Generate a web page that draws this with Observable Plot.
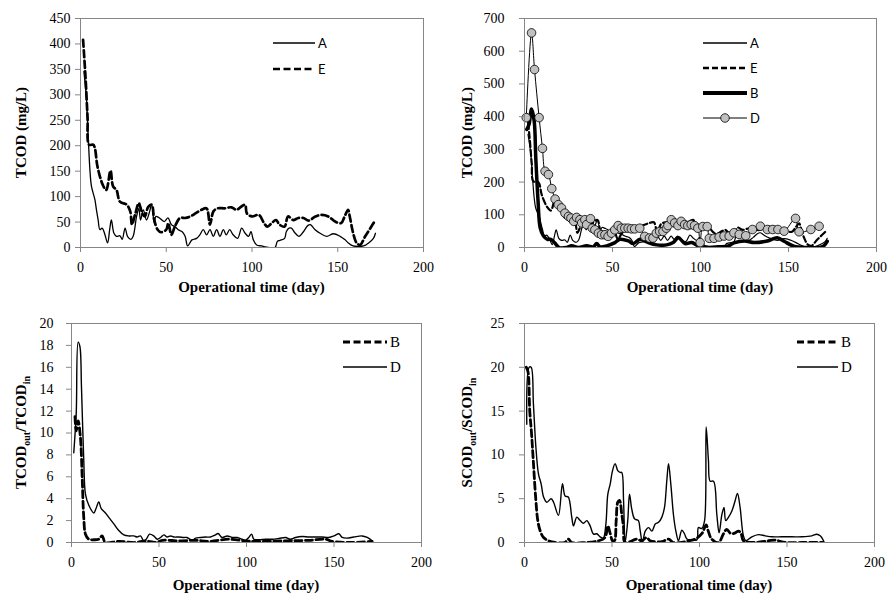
<!DOCTYPE html>
<html><head><meta charset="utf-8">
<script src="https://cdn.jsdelivr.net/npm/d3@7"></script>
<script src="https://cdn.jsdelivr.net/npm/@observablehq/plot@0.6"></script>
<style>
body{margin:0;background:#fff;}
#wrap{position:relative;width:892px;height:596px;overflow:hidden;background:#fff;}
#wrap svg{position:absolute;overflow:visible;}
</style></head><body><div id="wrap"></div>
<script>
// ---------- shared tick labels ----------
const xTicks = [0, 50, 100, 150, 200];
const yTicks1 = [0, 50, 100, 150, 200, 250, 300, 350, 400, 450];
const yTicks2 = [0, 100, 200, 300, 400, 500, 600, 700];
const yTicks3 = [0, 2, 4, 6, 8, 10, 12, 14, 16, 18, 20];
const yTicks4 = [0, 5, 10, 15, 20, 25];

// ---------- TCOD series (mg/L), panels 1 & 2 ----------
const aDays = [2,3.5,4.5,5.5,6.4,8.4,9.3,10.3,11.3,12.6,14,15.8,17,18,19.5,21,23,24.3,26,27.4,29.4,30.7,32.7,34,35,36.6,38.5,40,41.5,43,44,46,48.8,51,53,55,57,59.3,61,62.5,65,67.7,69.6,71.6,73.5,75.5,77.4,79.4,81.3,83.3,85,87,89,91.6,94,96,98,99.4,100.8,102.7,105.6,109.5,113.4,114.8,116.3,119,120,121.6,123,125,127.4,130,132.5,134,136.8,139.7,143.6,147.5,151.4,154.3,156.2,159,162,165,168,170.8,172];
const aVals = [346,290,218,152,120,94,74,54,35,38,28,9,35,54,28,22,23,16,38,22,16,22,61,77,54,74,54,67,84,48,61,58,51,58,45,41,35,31,22,3,15,18,25,35,25,35,22,35,22,35,25,35,25,18,38,28,22,31,15,5,3,0,0,12,14,18,31,38,38,29,22,31,43,45,35,28,22,27,22,15,9,3,2,3,9,18,28];

const eDays = [1.5,2.9,4.1,5,7.4,8.4,9.9,13,15,17.5,19,21,23,27,29,30,32,34,36,37.5,39.5,41.5,43,45,47,50,51.2,53,55,58,61,64,67,70.5,73.5,75.5,77.5,80,84,88,91,94,96,97,100,104,107,109,111.5,114,116,119,121,124,127,130,133,137,140.5,144.5,148.5,152,154,156,157,159,161,163,166,169,172];
const eVals = [408,336,257,202,202,195,159,123,113,151,120,113,90,84,71,45,67,87,67,61,80,84,54,35,30,35,48,25,41,58,58,61,67,74,77,45,71,77,77,79,74,81,84,67,61,64,48,41,48,54,45,41,61,54,58,58,53,61,64,61,51,48,61,74,61,28,9,5,22,38,54];

const bDays = [1.3,2.6,4,5.5,6.4,7.7,8.9,10.8,13,15,17,19.7,23.9,26.8,30.5,35.3,39.1,41,42.9,46.7,51.4,54.2,59,61.8,65.6,69.4,75.1,80.8,84.5,87.4,91.2,95,98.8,104.5,110.2,115.9,119,124.9,130.6,138,143.6,147.5,153,160.8,167.4,170,172];
const bVals = [361,377,423,387,275,142,60,35,25,25,15,0,0,5,0,5,2,12,2,5,15,25,20,12,25,17,8,8,15,30,12,15,5,0,2,5,14,20,15,20,30,19,4,0,0,5,19];

const dDays = [1,4,5.7,8.3,10.2,11.7,13.6,15.5,17.4,19.2,21,23,25,26.4,28,29.6,31.5,32.5,34.3,35.3,37.5,38.5,40,42,43.8,45.7,47.5,49.4,51.3,53.2,55,57,58.9,60.7,62.6,65.5,68.3,71,73,74.9,76.8,78.7,80.6,81.5,83.4,85.3,87.2,89,91,92.8,94.7,96.6,98.5,99.8,101.3,103.8,105,107.7,110.6,113.4,116.3,119,122,125.7,129.5,134,138,141,144,147.5,154,156,162.7,167.4];
const dVals = [397,656,544,397,303,233,223,180,148,131,121,105,95,90,80,92,85,75,85,70,88,59,54,44,39,39,34,44,54,67,59,59,59,57,57,59,34,29,29,44,49,49,59,67,85,75,67,80,70,67,70,67,59,15,64,64,28,28,32,35,35,45,40,36,55,65,55,55,55,50,89,48,55,65];

// ---------- TCOD_out/TCOD_in (panel 3) ----------
const r3bDays = [2,2.7,3.8,5.1,6.1,7,8,9.9,12.8,15.6,17.5,19.4,27,36.6,42.3,48,51.8,61.3,70.9,78.5,89.9,99.4,105,122,135.6,145,149,160,171.8];
const r3bVals = [11.5,10.2,11.1,9.6,6,2.3,0.76,0.3,0.25,0.3,0.6,0,0.1,0,0.15,0,0.2,0.15,0.2,0.1,0.3,0.15,0.1,0.15,0.2,0.3,0.1,0,0.1];
const r3dDays = [1.3,2.7,3.8,4.8,5.7,7,8,9.9,12.8,14,15.6,17,19.4,21.3,24.2,27,29.9,32.8,35.6,37.5,39.4,41.3,42.7,44.6,47,49,50.9,52.8,54.7,56.6,58.5,61.3,64.2,66,69,70.9,73.7,76.6,79.4,82.3,83.8,86,89,91.8,94.7,97.5,99.4,101.3,102.9,104.2,107,110.9,114.7,118.5,122.3,125.1,128,131.8,135.6,139.4,143.2,147,150,152.8,154.7,157.5,161.3,166,169,171.8];
const r3dVals = [8.2,11.8,18.3,17.9,14.2,7.5,4.4,3.4,2.7,3.1,3.7,3.1,2.7,2.3,1.7,1.1,0.7,0.6,0.6,0.5,0.6,0.15,0.3,0.76,0.6,0.3,0.46,0.7,0.5,0.6,0.5,0.5,0.46,0.46,0.2,0.4,0.46,0.5,0.5,0.7,0.82,0.46,0.6,0.46,0.46,0.3,0.2,0.46,0.76,0.3,0.25,0.3,0.3,0.37,0.46,0.3,0.46,0.55,0.5,0.5,0.5,0.46,0.6,0.8,0.46,0.4,0.5,0.6,0.46,0.15];

// ---------- SCOD_out/SCOD_in (panel 4) ----------
const r4bDays = [1,2,3,4,5,6.5,7.6,9,10.9,13.7,17.5,23,25,27,34.7,42.3,46,47.6,49,50.3,51.4,52.4,53.3,54.3,55.6,56.6,57.5,64.2,67,69.9,71.8,78.5,82.3,85,90,93.7,97.5,101.3,103.8,105,107,110.9,113.7,115.6,118,120.4,122.3,123.8,125.1,131.8,139.4,143.2,149,158.5,170.9];
const r4bVals = [20,19.5,15,12.5,9.4,4.8,2.5,1.3,0.57,0.2,0,0,0.38,0,0,0.2,0.57,1.9,1,0.2,0.2,2.5,4.6,4.8,3.2,1.7,0,0.38,0.2,0.57,0.2,0.1,0.38,0,0,0.2,0.38,1,2,1.3,0.38,0,1,1.5,1,1.1,1.3,1,0.2,0,0.2,0.27,0,0,0];
const r4dDays = [1.3,2.7,3.8,5.1,6.5,8,9.5,10.9,12.8,15.2,16.6,19.4,21.7,23.2,25,27,28,29.9,31.8,33.7,35.6,37.5,39.4,41.3,43.2,45,46.5,47.6,49,50.3,51.8,53.3,54.7,55.6,56.6,57.5,59,60,61.3,62.9,65.1,66,67.4,69,70.9,72.8,74.7,76.6,78.5,80,81.3,82.3,83.6,85.1,86.5,88,89.9,91.4,92.8,95.6,98.5,99.4,101.3,102.9,103.8,105.1,106.1,108,109.9,111.2,112.8,114,115,116.6,118.5,120.4,121.7,123.2,125.1,126.5,129.9,133.7,137.5,141.3,147,152.8,158.5,164.2,167,169,170.9];
const r4dVals = [13.5,20,20,15.8,10.9,7.8,6.7,5.2,4.6,5,4.6,3.1,6.7,5.3,5.2,2.9,1.9,2.9,2.5,2.2,2.5,1.9,0.95,1,0.65,0.5,2.1,5.5,6.7,8.2,9,8.2,8,8,4.8,0,2.5,5.5,3.8,2.7,2.5,1.5,0,1.3,1.7,1.3,2.1,2.3,2.9,4,7,9,6.7,3.2,1.3,0.2,1.4,1,0.4,0.3,0.3,1.7,1.6,2.5,13.2,9.4,7,7,3.2,1.1,3.2,4,2.5,2.9,3.6,4.8,5.6,4,0.76,0.2,0.65,0.9,0.76,0.65,0.65,0.65,0.65,0.76,0.95,0.76,0.2];

// ---------- helpers ----------
const rows = (days, vals) => days.map((d, i) => ({day: d, v: vals[i]}));
const SERIF = "'Liberation Serif', 'Times New Roman', serif";
const SANS = "Lato, 'Liberation Sans', sans-serif";
const GRAY = "#868686";
const wrap = document.getElementById("wrap");

function makePanel(cfg) {
  const W = 446, H = 298;
  const svg = Plot.plot({
    width: W, height: H,
    marginLeft: cfg.mL, marginRight: cfg.mR, marginTop: cfg.mT, marginBottom: cfg.mB,
    style: {fontFamily: SERIF, fontSize: "14px", background: "transparent", color: "black"},
    x: {domain: [0, 200], axis: null},
    y: {domain: cfg.yDomain, axis: null},
    marks: [
      ...cfg.marks,
      Plot.frame({stroke: GRAY, strokeWidth: 1}),
      Plot.axisX({ticks: xTicks, tickSize: 5, tickPadding: 10, stroke: GRAY, fill: "black", label: null, fontSize: 14}),
      Plot.axisY({ticks: cfg.yTicks, tickSize: 5, tickPadding: cfg.tickPadY, stroke: GRAY, fill: "black", label: null, fontSize: 14})
    ]
  });
  svg.style.left = cfg.left + "px";
  svg.style.top = cfg.top + "px";
  const s = d3.select(svg);
  s.selectAll("text").style("font-family", SERIF).style("font-size", "14px");
  const plotCx = cfg.mL + (W - cfg.mL - cfg.mR) / 2;
  const plotCy = cfg.mT + (H - cfg.mT - cfg.mB) / 2;
  // x axis title
  s.append("text").attr("x", plotCx).attr("y", 287).attr("dy", "0.35em")
    .attr("text-anchor", "middle").style("font-family", SERIF).style("font-size", "15px")
    .attr("font-weight", "bold").attr("fill", "black").text("Operational time (day)");
  // y axis title
  const yt = s.append("text").attr("transform", `translate(21,${plotCy}) rotate(-90)`)
    .attr("dy", "0.35em").attr("text-anchor", "middle").style("font-family", SERIF)
    .style("font-size", "15px").attr("font-weight", "bold").attr("fill", "black");
  cfg.yLabel.forEach(part => {
    const t = yt.append("tspan").text(part.t);
    if (part.sub) t.style("font-size", "10px").attr("dy", 4);
    if (part.after) t.attr("dy", -4);
  });
  // legend
  const lg = cfg.legend;
  lg.items.forEach((it, i) => {
    const y = lg.y0 + i * lg.dy;
    s.append("line").attr("x1", lg.x1).attr("x2", lg.x2).attr("y1", y).attr("y2", y)
      .attr("stroke", "black").attr("stroke-width", it.w)
      .attr("stroke-dasharray", it.dash || null);
    if (it.dot) s.append("circle").attr("cx", (lg.x1 + lg.x2) / 2).attr("cy", y).attr("r", 4.3)
      .attr("fill", "#c0c0c0").attr("stroke", "black").attr("stroke-width", 0.8);
    s.append("text").attr("x", lg.x2 + 3).attr("y", y).attr("dy", "0.35em")
      .attr("text-anchor", "start")
      .style("font-family", lg.font).style("font-size", lg.size + "px").attr("fill", "black").text(it.label);
  });
  wrap.appendChild(svg);
}

const lineOpts = (extra) => Object.assign({x: "day", y: "v", stroke: "black", curve: "catmull-rom", clip: true}, extra);

const A = rows(aDays, aVals), E = rows(eDays, eVals), B = rows(bDays, bVals), D = rows(dDays, dVals);

// Panel 1
makePanel({
  left: 0, top: 0, mL: 80, mR: 23, mT: 18, mB: 51,
  yDomain: [0, 450], yTicks: yTicks1, tickPadY: 5,
  yLabel: [{t: "TCOD (mg/L)"}],
  marks: [
    Plot.line(A, lineOpts({strokeWidth: 1.3})),
    Plot.line(E, lineOpts({strokeWidth: 2.7, strokeDasharray: "7,3.5"}))
  ],
  legend: {x1: 273, x2: 315, y0: 43, dy: 26, font: SANS, size: 13,
    items: [{label: "A", w: 1.3}, {label: "E", w: 2.7, dash: "7,3.5"}]}
});

// Panel 2
makePanel({
  left: 446, top: 0, mL: 78, mR: 16, mT: 18, mB: 51,
  yDomain: [0, 700], yTicks: yTicks2, tickPadY: 15,
  yLabel: [{t: "TCOD (mg/L)"}],
  marks: [
    Plot.line(A, lineOpts({strokeWidth: 1.2})),
    Plot.line(E, lineOpts({strokeWidth: 2.2, strokeDasharray: "6,3"})),
    Plot.line(B, lineOpts({strokeWidth: 3.5})),
    Plot.line(D, lineOpts({strokeWidth: 1})),
    Plot.dot(D, {x: "day", y: "v", r: 4.3, fill: "#c0c0c0", stroke: "black", strokeWidth: 0.8})
  ],
  legend: {x1: 257, x2: 301, y0: 43, dy: 25, font: SANS, size: 13,
    items: [{label: "A", w: 1.3}, {label: "E", w: 2.4, dash: "6,3"}, {label: "B", w: 3.8}, {label: "D", w: 1, dot: true}]}
});

// Panel 3
makePanel({
  left: 0, top: 298, mL: 71, mR: 25, mT: 25, mB: 54,
  yDomain: [0, 20], yTicks: yTicks3, tickPadY: 13,
  yLabel: [{t: "TCOD"}, {t: "out", sub: true}, {t: "/TCOD", after: true}, {t: "in", sub: true}],
  marks: [
    Plot.line(rows(r3bDays, r3bVals), lineOpts({strokeWidth: 2.8, strokeDasharray: "7,3.5"})),
    Plot.line(rows(r3dDays, r3dVals), lineOpts({strokeWidth: 1.4}))
  ],
  legend: {x1: 343, x2: 387, y0: 44, dy: 25, font: SERIF, size: 15,
    items: [{label: "B", w: 2.8, dash: "7,3.5"}, {label: "D", w: 1.4}]}
});

// Panel 4
makePanel({
  left: 446, top: 298, mL: 78, mR: 18, mT: 25, mB: 54,
  yDomain: [0, 25], yTicks: yTicks4, tickPadY: 15,
  yLabel: [{t: "SCOD"}, {t: "out", sub: true}, {t: "/SCOD", after: true}, {t: "in", sub: true}],
  marks: [
    Plot.line(rows(r4bDays, r4bVals), lineOpts({strokeWidth: 2.8, strokeDasharray: "7,3.5"})),
    Plot.line(rows(r4dDays, r4dVals), lineOpts({strokeWidth: 1.4}))
  ],
  legend: {x1: 351, x2: 392, y0: 44, dy: 25, font: SERIF, size: 15,
    items: [{label: "B", w: 2.8, dash: "7,3.5"}, {label: "D", w: 1.4}]}
});
</script></body></html>
